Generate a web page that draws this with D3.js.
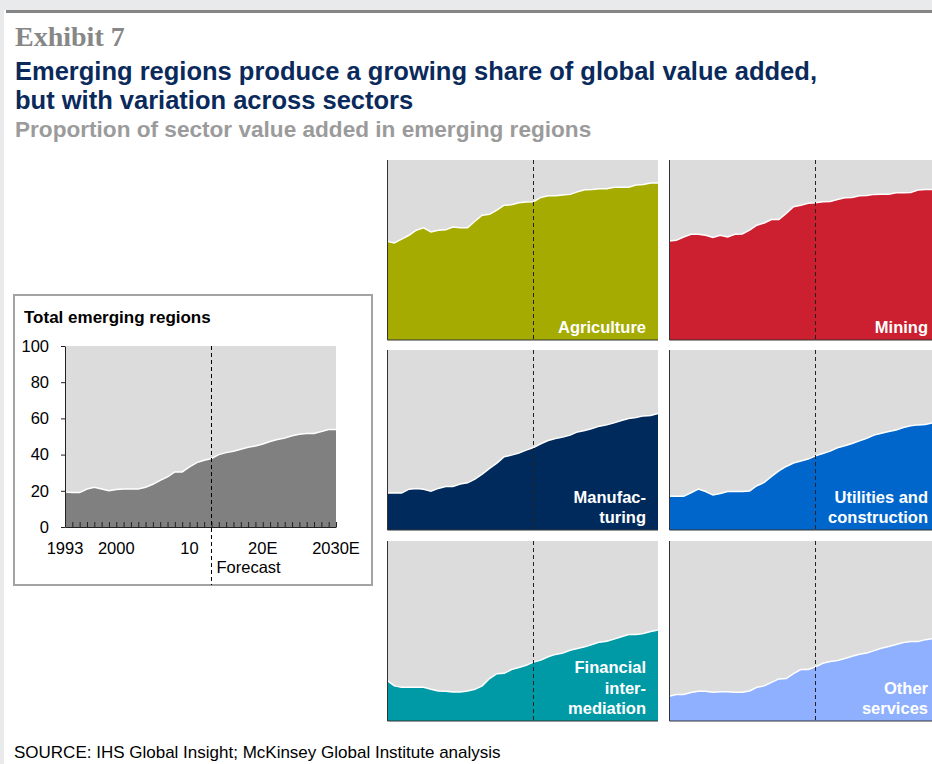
<!DOCTYPE html>
<html>
<head>
<meta charset="utf-8">
<script src="https://cdn.jsdelivr.net/npm/d3@7"></script>
<style>
  body { margin: 0; background: #e9eaec; }
  svg { display: block; font-family: "Liberation Sans", Arial, sans-serif; }
</style>
</head>
<body>
<div id="chart"></div>
<script>

// Data
// ==============================
var years = [1993, 1994, 1995, 1996, 1997, 1998, 1999, 2000, 2001, 2002,
  2003, 2004, 2005, 2006, 2007, 2008, 2009, 2010, 2011, 2012,
  2013, 2014, 2015, 2016, 2017, 2018, 2019, 2020, 2021, 2022,
  2023, 2024, 2025, 2026, 2027, 2028, 2029, 2030];

var totalShare = [19.4, 19, 19, 21, 22, 21, 20, 20.7, 21, 21,
  21, 22, 23.6, 25.8, 27.7, 30.4, 30.4, 33.2, 35.6, 36.9,
  37.8, 40, 41.1, 41.9, 43, 44.1, 44.8, 45.9, 47.2, 48.3,
  49.1, 50.4, 51.3, 51.7, 51.7, 52.8, 53.9, 53.9];

var agriculture = [54.8, 53.9, 56, 58.2, 61, 62.3, 60, 61, 61.2, 62.8,
  62.3, 62.3, 66, 69.3, 69.9, 72.1, 74.9, 75.1, 76.2, 76.6,
  76.8, 79.2, 80.1, 80.1, 80.5, 80.9, 82.3, 83.5, 83.6, 84,
  84, 84.9, 84.9, 84.9, 86.1, 86.4, 87.2, 87.2];

var mining = [55, 55.4, 57.2, 58.7, 58.7, 58.2, 57, 58.2, 57.2, 58.7,
  58.9, 61, 63.8, 65, 66.9, 66.9, 70.3, 74, 74.9, 76,
  76.2, 76.8, 77, 78, 79, 79.2, 80.1, 80.3, 80.9, 81,
  81, 81.8, 81.8, 82, 83.3, 83.6, 83.6, 83.6];

var manufacturing = [20.5, 20.5, 20.5, 22.7, 23.1, 22.6, 21.6, 23.1, 24.2, 24.2,
  25.5, 26.2, 28.3, 31, 34.2, 37.2, 40.7, 41.6, 42.7, 44.4,
  45.8, 47.9, 49.7, 50.8, 51.6, 52.7, 54.5, 55.3, 56.4, 57.7,
  58.4, 59.5, 60.8, 61.9, 62.5, 63.4, 63.6, 64.7];

var utilities = [18.7, 18.7, 18.7, 20.7, 22.7, 21.4, 19.4, 20.3, 21.4, 21.4,
  21.4, 21.6, 24.6, 26.4, 29.8, 32.9, 35.3, 37.2, 38.3, 39.4,
  41.2, 42.5, 43.8, 45.7, 46.8, 48.1, 49.5, 51, 52.7, 53.8,
  54.7, 55.5, 56.9, 57.9, 58.4, 58.6, 59.5, 60];

var financial = [22.6, 19.5, 18.7, 18.7, 18.7, 18.7, 17.6, 16.7, 16.5, 16.1,
  16.1, 16.7, 17.6, 19.5, 23.6, 26.3, 26.5, 28.6, 29.7, 31,
  32.7, 33.8, 35.7, 37, 37.7, 39.3, 40.3, 41.2, 42.5, 43.8,
  44.3, 45.5, 46.8, 48, 48, 48.6, 49.7, 50.6];

var otherServices = [13.7, 14.7, 14.7, 15.8, 16.5, 16.5, 16, 16.3, 16.3, 16,
  16, 16.7, 18.7, 19.5, 21.5, 23.4, 23.6, 26.3, 28.6, 28.6,
  30.1, 32.1, 33.1, 33.6, 34.7, 36, 37.1, 37.8, 39.1, 40.4,
  41.4, 42.5, 43.6, 44.1, 44.1, 45.2, 45.8, 46.6];

var sectorNames = [["Agriculture"], ["Mining"], ["Manufac-", "turing"],
  ["Utilities and", "construction"], ["Financial", "inter-", "mediation"],
  ["Other", "services"]];
var sectorValues = [agriculture, mining, manufacturing, utilities, financial, otherServices];
var sectorColors = ["#a5ab00", "#cc1f2f", "#002a5c", "#0066cc", "#009aa6", "#8fb0ff"];

var xTickYears = [1993, 2000, 2010, 2020, 2030];
var xTickLabels = ["1993", "2000", "10", "20E", "2030E"];
var yTicks = [0, 20, 40, 60, 80, 100];
var forecastYear = 2013;

// Set up SVG
// ==============================
var svgWidth = 932;
var svgHeight = 764;

var svg = d3.select("#chart")
  .append("svg")
  .attr("width", svgWidth)
  .attr("height", svgHeight);

svg.append("rect")
  .attr("x", 4)
  .attr("y", 10)
  .attr("width", svgWidth)
  .attr("height", svgHeight)
  .attr("fill", "#ffffff");

svg.append("rect")
  .attr("x", 6)
  .attr("y", 10)
  .attr("width", svgWidth)
  .attr("height", 3)
  .attr("fill", "#858585");

// Header texts
// ==============================
svg.append("text")
  .attr("x", 15)
  .attr("y", 46)
  .attr("font-family", "'Liberation Serif', Georgia, serif")
  .attr("font-weight", "bold")
  .attr("font-size", 28)
  .attr("fill", "#878787")
  .text("Exhibit 7");

svg.append("text")
  .attr("x", 15)
  .attr("y", 80)
  .attr("font-weight", "bold")
  .attr("font-size", 25.5)
  .attr("fill", "#0a2a5c")
  .text("Emerging regions produce a growing share of global value added,");

svg.append("text")
  .attr("x", 15)
  .attr("y", 109)
  .attr("font-weight", "bold")
  .attr("font-size", 25.5)
  .attr("fill", "#0a2a5c")
  .text("but with variation across sectors");

svg.append("text")
  .attr("x", 15)
  .attr("y", 137)
  .attr("font-weight", "bold")
  .attr("font-size", 22.6)
  .attr("fill", "#9b9b9b")
  .text("Proportion of sector value added in emerging regions");

svg.append("text")
  .attr("x", 14)
  .attr("y", 758)
  .attr("font-size", 17)
  .attr("fill", "#000000")
  .text("SOURCE: IHS Global Insight; McKinsey Global Institute analysis");

// Total panel
// ==============================
svg.append("rect")
  .attr("x", 14)
  .attr("y", 295)
  .attr("width", 358)
  .attr("height", 290)
  .attr("fill", "#ffffff")
  .attr("stroke", "#a3a3a3")
  .attr("stroke-width", 2);

svg.append("text")
  .attr("x", 24)
  .attr("y", 323)
  .attr("font-weight", "bold")
  .attr("font-size", 17)
  .attr("fill", "#000000")
  .text("Total emerging regions");

var total = { left: 65, top: 346, width: 271, height: 181 };

var totalGroup = svg.append("g")
  .attr("transform", `translate(${total.left}, ${total.top})`);

var xTotal = d3.scaleLinear()
  .domain([years[0], years[years.length - 1]])
  .range([0, total.width]);

var yTotal = d3.scaleLinear()
  .domain([0, 100])
  .range([total.height, 0]);

totalGroup.append("rect")
  .attr("width", total.width)
  .attr("height", total.height)
  .attr("fill", "#dcdcdc");

totalGroup.append("path")
  .datum(totalShare)
  .attr("fill", "#808080")
  .attr("d", d3.area()
    .x((d, i) => xTotal(years[i]))
    .y0(yTotal(0))
    .y1(d => yTotal(d)));

totalGroup.append("path")
  .datum(totalShare)
  .attr("fill", "none")
  .attr("stroke", "#ffffff")
  .attr("stroke-width", 1.5)
  .attr("d", d3.line()
    .x((d, i) => xTotal(years[i]))
    .y(d => yTotal(d)));

// year ticks pointing up from the axis
var bottomAxis = d3.axisBottom(xTotal)
  .tickValues(years)
  .tickSize(-5)
  .tickSizeOuter(0)
  .tickFormat("");

totalGroup.append("g")
  .attr("transform", `translate(0, ${total.height})`)
  .call(bottomAxis)
  .call(g => g.selectAll("line, path").attr("stroke", "#222"));

var leftAxis = d3.axisLeft(yTotal)
  .tickValues(yTicks)
  .tickSize(4)
  .tickSizeOuter(0)
  .tickPadding(12);

totalGroup.append("g")
  .call(leftAxis)
  .call(g => g.selectAll("line, path").attr("stroke", "#222"))
  .call(g => g.selectAll("text")
    .attr("font-family", "'Liberation Sans', Arial, sans-serif")
    .attr("font-size", 16.5)
    .attr("fill", "#000"));

totalGroup.selectAll(".xlabel")
  .data(xTickYears)
  .enter()
  .append("text")
  .attr("class", "xlabel")
  .attr("x", d => xTotal(d))
  .attr("y", total.height + 27)
  .attr("text-anchor", "middle")
  .attr("font-size", 16.5)
  .text((d, i) => xTickLabels[i]);

totalGroup.append("line")
  .attr("x1", xTotal(forecastYear))
  .attr("x2", xTotal(forecastYear))
  .attr("y1", 0)
  .attr("y2", 585 - total.top)
  .attr("stroke", "#000")
  .attr("stroke-dasharray", "4,3");

totalGroup.append("text")
  .attr("x", xTotal(forecastYear) + 5)
  .attr("y", total.height + 46)
  .attr("font-size", 16.5)
  .text("Forecast");

// Sector panels
// ==============================
var panelLeft = [387, 669];
var panelTop = [160, 350, 541];
var panelWidth = 271;
var panelHeight = 180;

var xPanel = d3.scaleLinear()
  .domain([years[0], years[years.length - 1]])
  .range([0, panelWidth]);

var yPanel = d3.scaleLinear()
  .domain([0, 100])
  .range([panelHeight, 0]);

sectorValues.forEach(function(values, k) {
  var g = svg.append("g")
    .attr("transform", `translate(${panelLeft[k % 2]}, ${panelTop[Math.floor(k / 2)]})`);

  g.append("rect")
    .attr("width", panelWidth)
    .attr("height", panelHeight)
    .attr("fill", "#dcdcdc");

  g.append("path")
    .datum(values)
    .attr("fill", sectorColors[k])
    .attr("d", d3.area()
      .x((d, i) => xPanel(years[i]))
      .y0(yPanel(0))
      .y1(d => yPanel(d)));

  g.append("path")
    .datum(values)
    .attr("fill", "none")
    .attr("stroke", "#ffffff")
    .attr("stroke-width", 1.5)
    .attr("d", d3.line()
      .x((d, i) => xPanel(years[i]))
      .y(d => yPanel(d)));

  g.append("line")
    .attr("x1", xPanel(forecastYear))
    .attr("x2", xPanel(forecastYear))
    .attr("y1", 0)
    .attr("y2", panelHeight)
    .attr("stroke", "#222")
    .attr("stroke-dasharray", "4,3");

  // axis lines
  g.append("path")
    .attr("d", `M0.5,0V${panelHeight}H${panelWidth}`)
    .attr("fill", "none")
    .attr("stroke", "#333");

  var lines = sectorNames[k];
  g.selectAll(".plabel")
    .data(lines)
    .enter()
    .append("text")
    .attr("class", "plabel")
    .attr("x", panelWidth - 12)
    .attr("y", (d, i) => panelHeight - 7 - (lines.length - 1 - i) * 20.5)
    .attr("text-anchor", "end")
    .attr("font-weight", "bold")
    .attr("font-size", 16.5)
    .attr("fill", "#ffffff")
    .text(d => d);
});

</script>
</body>
</html>
